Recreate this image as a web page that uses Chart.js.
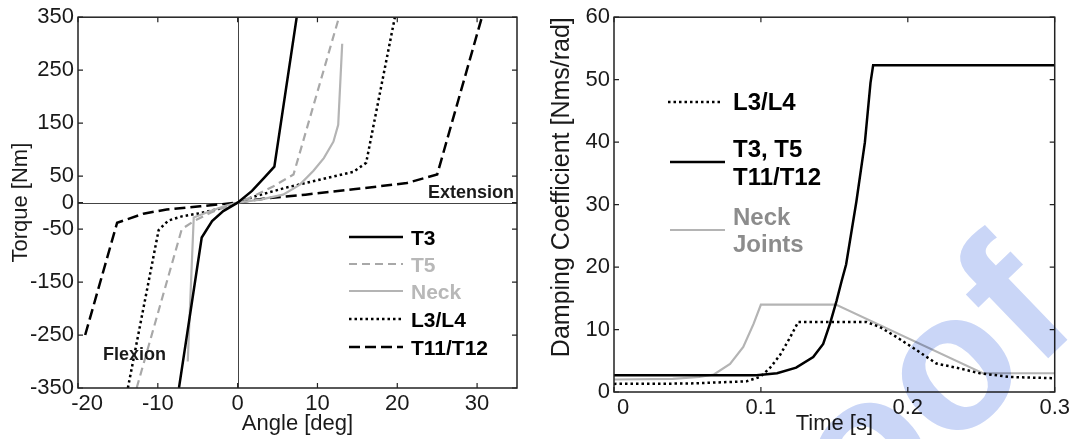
<!DOCTYPE html>
<html><head><meta charset="utf-8">
<script src="https://cdn.jsdelivr.net/npm/chart.js@4.4.1/dist/chart.umd.min.js"></script>
<style>
html,body{margin:0;padding:0;background:#fff;width:1073px;height:439px;overflow:hidden;}
#c1{position:absolute;left:0;top:0;}
#c2{position:absolute;left:536px;top:0;}
</style></head><body>
<canvas id="c1" width="536" height="439"></canvas>
<canvas id="c2" width="537" height="439"></canvas>
<script>
// ---------- Left chart data: torque vs angle ----------
const xTicksLeft = [-20, -10, 0, 10, 20, 30];
const yTicksLeft = [350, 250, 150, 50, 0, -50, -150, -250, -350];

const t3Angle = [-7.35, -4.5, -3.2, -1.8, 0, 1.8, 3.4, 4.6, 7.4];
const t3Torque = [-350, -66, -35, -16, 0, 22, 48, 68, 350];

const t5Angle = [-12.65, -7, -5.5, -3.4, 0, 2, 4.5, 7, 12.7];
const t5Torque = [-350, -50, -35, -19, 0, 12, 31, 53, 350];

const neckAngle = [-6.25, -5.5, -3.4, -1.5, 0, 3, 5.7, 7.8, 9.5, 10.8, 12, 12.6, 13.1];
const neckTorque = [-300, -28, -16, -6, 0, 6, 15, 34, 60, 84, 115, 147, 300];

const l34Angle = [-13.75, -9.9, -8.7, -7, -4.7, -2.4, 0, 2, 6, 10.5, 14.5, 16.1, 19.7];
const l34Torque = [-350, -52, -34, -26, -20, -12, 0, 11, 28, 44, 58, 75, 350];

const t1112Angle = [-19.1, -15.1, -11.8, -8.9, -4.7, 0, 3, 8.5, 14.5, 21.2, 25, 30.6];
const t1112Torque = [-250, -38, -21, -13, -7, 0, 7, 15, 25, 37, 53, 350];

// ---------- Right chart data: damping vs time ----------
const xTicksRight = [0, 0.1, 0.2, 0.3];
const yTicksRight = [0, 10, 20, 30, 40, 50, 60];

const stiffTime = [0, 0.05, 0.097, 0.111, 0.124, 0.1356, 0.1424, 0.147, 0.1515, 0.155, 0.158, 0.165, 0.1708, 0.1746, 0.1764, 0.3];
const stiffDamp = [2.7, 2.7, 2.7, 3.0, 3.9, 5.6, 7.7, 10.9, 14.6, 17.8, 20.4, 30.5, 40, 49.5, 52.3, 52.3];

const neckTime = [0, 0.04, 0.058, 0.068, 0.079, 0.088, 0.095, 0.1, 0.151, 0.251, 0.3];
const neckDamp = [2.0, 2.1, 2.4, 2.8, 4.5, 7.2, 10.9, 14, 14, 3.0, 3.0];

const l34Time = [0, 0.05, 0.09, 0.0993, 0.106, 0.113, 0.12, 0.1254, 0.172, 0.181, 0.1923, 0.206, 0.2195, 0.233, 0.249, 0.27, 0.3];
const l34Damp = [1.3, 1.35, 1.7, 2.4, 3.8, 5.9, 8.8, 11.2, 11.2, 10.4, 8.8, 6.7, 4.55, 3.9, 3.0, 2.4, 2.2];

const pts = (xs, ys) => xs.map((x, i) => ({x: x, y: ys[i]}));

Chart.defaults.font.family = '"Liberation Sans", Arial, sans-serif';
Chart.defaults.font.size = 22;
Chart.defaults.color = '#1a1a1a';

// frame + inside ticks
const framePlugin = {
  id: 'frame',
  afterDatasetsDraw(chart) {
    const {ctx, chartArea: a, scales: {x, y}} = chart;
    ctx.save();
    ctx.strokeStyle = '#222';
    ctx.lineWidth = 1.5;
    ctx.setLineDash([]);
    ctx.strokeRect(a.left, a.top, a.right - a.left, a.bottom - a.top);
    ctx.lineWidth = 1.2;
    const L = 5;
    ctx.beginPath();
    x.ticks.forEach(t => {
      const p = x.getPixelForValue(t.value);
      ctx.moveTo(p, a.bottom); ctx.lineTo(p, a.bottom - L);
      ctx.moveTo(p, a.top); ctx.lineTo(p, a.top + L);
    });
    y.ticks.forEach(t => {
      const p = y.getPixelForValue(t.value);
      ctx.moveTo(a.left, p); ctx.lineTo(a.left + L, p);
      ctx.moveTo(a.right, p); ctx.lineTo(a.right - L, p);
    });
    ctx.stroke();
    ctx.restore();
  }
};

const zeroPlugin = {
  id: 'zeroLines',
  beforeDatasetsDraw(chart) {
    const {ctx, chartArea: a, scales: {x, y}} = chart;
    ctx.save();
    ctx.strokeStyle = '#444';
    ctx.lineWidth = 1;
    const px = Math.round(x.getPixelForValue(0)) + 0.5;
    const py = Math.round(y.getPixelForValue(0)) + 0.5;
    ctx.beginPath();
    ctx.moveTo(px, a.top); ctx.lineTo(px, a.bottom);
    ctx.moveTo(a.left, py); ctx.lineTo(a.right, py);
    ctx.stroke();
    ctx.restore();
  }
};

const legendPlugin = {
  id: 'customLegend',
  afterDraw(chart, args, opts) {
    const ctx = chart.ctx;
    ctx.save();
    (opts.rows || []).forEach(r => {
      const ds = chart.data.datasets[r.ds];
      if (r.line) {
        ctx.strokeStyle = ds.borderColor;
        ctx.lineWidth = ds.borderWidth;
        ctx.setLineDash(ds.borderDash || []);
        ctx.beginPath();
        ctx.moveTo(r.line[0], r.line[2]);
        ctx.lineTo(r.line[1], r.line[2]);
        ctx.stroke();
      }
      ctx.setLineDash([]);
      ctx.fillStyle = r.color;
      ctx.font = 'bold ' + r.size + 'px "Liberation Sans", Arial, sans-serif';
      ctx.textBaseline = 'alphabetic';
      ctx.textAlign = r.align || 'left';
      r.text.forEach((s, i) => ctx.fillText(s, r.x, r.y + i * r.lh));
    });
    ctx.restore();
  }
};

const watermarkPlugin = {
  id: 'watermark',
  afterDraw(chart) {
    const ctx = chart.ctx;
    ctx.save();
    ctx.globalCompositeOperation = 'multiply';
    ctx.fillStyle = '#cad6f7';
    const fs = 195;
    ctx.font = 'bold ' + fs + 'px "Liberation Sans", Arial, sans-serif';
    const wPro = ctx.measureText('Pro').width;
    const wo = ctx.measureText('o').width;
    ctx.translate(957 - 536, 376);
    ctx.rotate(-44 * Math.PI / 180);
    ctx.textBaseline = 'alphabetic';
    ctx.fillText('Proof', -(wPro + wo / 2), 0.26 * fs);
    ctx.restore();
  }
};

// first tick label sits a little right of its tick in the reference
const firstShift = (v, i) => (i === 0 ? '\u00a0\u00a0\u00a0' : '') + String(v);

function axisX(min, max, ticksArr, height, titleText, pad) {
  return {
    type: 'linear', min: min, max: max,
    grid: {display: false, drawTicks: false},
    border: {display: false},
    afterBuildTicks: s => { s.ticks = ticksArr.map(v => ({value: v})); },
    afterFit: s => { s.height = height; },
    ticks: {padding: pad, autoSkip: false, maxRotation: 0, color: '#1a1a1a', callback: firstShift},
    title: {display: true, text: titleText, padding: {top: 0, bottom: 2}, color: '#1a1a1a'}
  };
}
function axisY(min, max, ticksArr, titleText, tpad, font, align) {
  return {
    type: 'linear', min: min, max: max,
    grid: {display: false, drawTicks: false},
    border: {display: false},
    afterBuildTicks: s => { s.ticks = ticksArr.map(v => ({value: v})); },
    afterFit: s => { s.width = 78; },
    ticks: {padding: 4, autoSkip: false, color: '#1a1a1a', callback: v => String(v)},
    title: {display: true, text: titleText, align: align, padding: {top: tpad, bottom: 0}, color: '#1a1a1a', font: {size: font}}
  };
}

const common = {
  responsive: false, animation: false, events: [],
  elements: {point: {radius: 0}, line: {tension: 0, borderCapStyle: 'butt'}},
};

new Chart(document.getElementById('c1'), {
  type: 'line',
  data: {datasets: [
    {label: 'T3', data: pts(t3Angle, t3Torque), borderColor: '#000', borderWidth: 2.5},
    {label: 'T5', data: pts(t5Angle, t5Torque), borderColor: '#a8a8a8', borderWidth: 2.2, borderDash: [8, 5]},
    {label: 'Neck', data: pts(neckAngle, neckTorque), borderColor: '#b4b4b4', borderWidth: 2.2},
    {label: 'L3/L4', data: pts(l34Angle, l34Torque), borderColor: '#000', borderWidth: 2.5, borderDash: [2.5, 3]},
    {label: 'T11/T12', data: pts(t1112Angle, t1112Torque), borderColor: '#000', borderWidth: 2.5, borderDash: [11, 5]}
  ]},
  options: Object.assign({}, common, {
    layout: {padding: {left: 0, right: 19, top: 15, bottom: 0}},
    scales: {
      x: axisX(-20, 35, xTicksLeft, 51, 'Angle [deg]', 3),
      y: axisY(-350, 350, yTicksLeft, 'Torque [Nm]', 8, 22, 'center')
    },
    plugins: {
      legend: {display: false}, tooltip: {enabled: false},
      customLegend: {rows: [
        {ds: 0, line: [349, 403, 237], text: ['T3'], x: 411, y: 245, lh: 0, size: 21, color: '#000'},
        {ds: 1, line: [349, 403, 264], text: ['T5'], x: 411, y: 272, lh: 0, size: 21, color: '#b8b8b8'},
        {ds: 2, line: [349, 403, 291], text: ['Neck'], x: 411, y: 299, lh: 0, size: 21, color: '#b8b8b8'},
        {ds: 3, line: [349, 403, 319], text: ['L3/L4'], x: 411, y: 327, lh: 0, size: 21, color: '#000'},
        {ds: 4, line: [349, 403, 347], text: ['T11/T12'], x: 411, y: 355, lh: 0, size: 21, color: '#000'},
        {ds: 0, text: ['Extension'], x: 514, y: 198, lh: 0, size: 18, color: '#1a1a1a', align: 'right'},
        {ds: 0, text: ['Flexion'], x: 103, y: 360, lh: 0, size: 18, color: '#1a1a1a'}
      ]}
    }
  }),
  plugins: [zeroPlugin, framePlugin, legendPlugin]
});

new Chart(document.getElementById('c2'), {
  type: 'line',
  data: {datasets: [
    {label: 'L3/L4', data: pts(l34Time, l34Damp), borderColor: '#000', borderWidth: 2.5, borderDash: [2.5, 3]},
    {label: 'T3, T5 T11/T12', data: pts(stiffTime, stiffDamp), borderColor: '#000', borderWidth: 2.5},
    {label: 'Neck Joints', data: pts(neckTime, neckDamp), borderColor: '#b4b4b4', borderWidth: 2.2}
  ]},
  options: Object.assign({}, common, {
    layout: {padding: {left: 0, right: 18, top: 15, bottom: 0}},
    scales: {
      x: axisX(0, 0.3, xTicksRight, 47, 'Time [s]', 3),
      y: axisY(0, 60, yTicksRight, 'Damping Coefficient [Nms/rad]', 11, 25, 'end')
    },
    plugins: {
      legend: {display: false}, tooltip: {enabled: false},
      customLegend: {rows: [
        {ds: 0, line: [668 - 536, 722 - 536, 102], text: ['L3/L4'], x: 733 - 536, y: 110, lh: 0, size: 24, color: '#000'},
        {ds: 1, line: [670 - 536, 725 - 536, 162], text: ['T3, T5', 'T11/T12'], x: 733 - 536, y: 157, lh: 28, size: 24, color: '#000'},
        {ds: 2, line: [670 - 536, 725 - 536, 230], text: ['Neck', 'Joints'], x: 733 - 536, y: 225, lh: 27, size: 24, color: '#8c8c8c'}
      ]}
    }
  }),
  plugins: [framePlugin, legendPlugin, watermarkPlugin]
});
</script></body></html>
